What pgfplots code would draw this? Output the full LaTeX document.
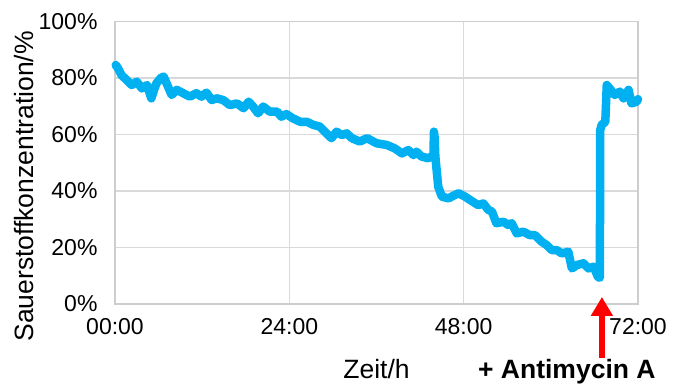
\documentclass[border=0pt]{standalone}
\usepackage{pgfplots}
\pgfplotsset{compat=1.18}
\usepackage{fontspec}
\setmainfont{Liberation Sans}
\usetikzlibrary{arrows.meta}
\definecolor{linecol}{RGB}{0,176,240}
\definecolor{gridcol}{RGB}{217,217,217}
\definecolor{axcol}{RGB}{205,205,205}
\begin{document}
\begin{tikzpicture}
\useasboundingbox (0,0) rectangle (679pt,387pt);
\begin{axis}[
  at={(115pt,83pt)}, anchor=south west,
  scale only axis, width=523pt, height=282.5pt,
  xmin=0, xmax=72, ymin=0, ymax=100,
  clip=false,
  xtick={0,24,48,72}, xticklabels={00:00,24:00,48:00,72:00},
  ytick={0,20,40,60,80,100},
  yticklabels={0\%,20\%,40\%,60\%,80\%,100\%},
  major tick length=0pt,
  grid=major,
  major grid style={draw=gridcol, line width=1.3pt},
  axis line style={draw=axcol, line width=1.3pt},
  ticklabel style={font=\fontsize{23}{23}\selectfont, text=black},
  xticklabel style={yshift=-11pt},
  yticklabel style={xshift=-14pt},
  xlabel={Zeit/h},
  ylabel={Sauerstoffkonzentration/\%},
  label style={font=\fontsize{26.5}{26.5}\selectfont},
  xlabel style={at={(axis description cs:0.5,-0.23)}, anchor=center},
  ylabel style={at={(axis description cs:-0.174,0.416)}, anchor=center},
]
\addplot[color=linecol, line width=8.5pt, line join=round, line cap=round] coordinates {
(0.1,84.6) (0.4,83.5) (0.9,81) (1.6,79.3) (2.3,77.5) (3.0,78.7) (3.7,76.3)
(4.4,77.5) (5.0,72.8) (5.4,76) (5.7,78.1) (6.3,80) (6.7,80.5) (7.1,78.1)
(7.8,74) (8.5,75.8) (9.4,74.6) (10.3,73.4) (11.2,74.6) (11.9,73.4) (12.6,74.8)
(13.3,72.2) (14.0,72.8) (14.9,72.2) (15.8,70.4) (16.8,71) (17.7,69.3) (18.4,71.6)
(19.0,69.9) (19.7,67.5) (20.4,69.9) (21.3,68.1) (22.3,68.1) (22.9,66.3) (23.6,67.2)
(24.5,65.7) (25.5,64.5) (26.4,64.5) (27.3,63.4) (28.2,62.8) (29.1,60.4) (29.8,58.7)
(30.5,61.0) (31.2,59.8) (31.9,60.4) (32.6,58.7) (33.7,57.5) (34.7,58.7) (36.0,56.9)
(37.4,56.3) (38.5,55.1) (39.5,53.3) (40.4,54.5) (41.1,52.7) (41.5,53.9) (42.2,52.2)
(43.1,51.6) (43.6,52.2) (43.85,52) (43.9,61) (44.0,59) (44.1,52.2) (44.5,41.5)
(45.0,38.0) (45.9,37.4) (46.8,38.6) (47.3,39.2) (48.2,38) (48.9,36.8) (50.0,35)
(50.7,35.6) (51.4,33.3) (51.9,32.7) (52.5,28.6) (53.5,29.1) (54.1,28) (54.6,28.6)
(55.3,25) (56.2,25.6) (57.1,24.4) (57.8,24.4) (58.7,22.1) (59.4,20.9) (60.1,19.1)
(60.8,19.1) (61.5,17.9) (62.4,18.5) (62.9,12.6) (63.6,13.8) (64.5,14.4) (65.2,12.6)
(65.9,13.2) (66.5,9.5) (66.75,9.3) (66.8,61.6) (67.0,63.4) (67.5,64.5) (67.7,77.5)
(68.1,76.3) (68.8,74.0) (69.5,75.2) (70.0,72.8) (70.7,75.8) (71.1,71.0) (71.8,71.6)
(72.0,72.5)
};
\draw[red, line width=6pt, -{Triangle[width=21pt,length=19pt]}]
  (axis description cs:0.931,-0.191) -- (axis description cs:0.931,0.025);
\node[font=\fontsize{26.5}{26.5}\selectfont\bfseries, anchor=center]
  at (axis description cs:0.864,-0.24) {+ Antimycin A};
\end{axis}
\end{tikzpicture}
\end{document}
